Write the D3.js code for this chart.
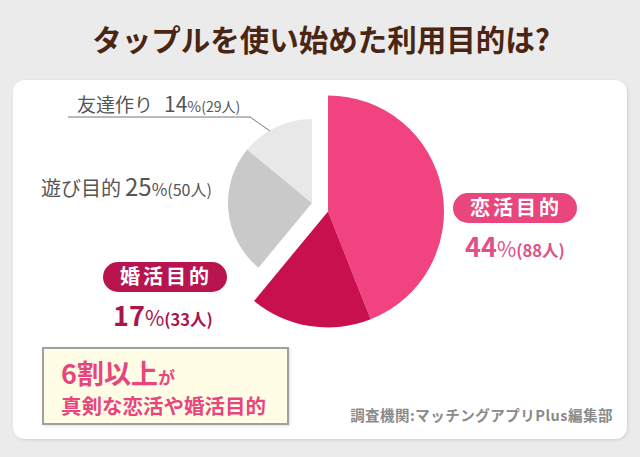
<!DOCTYPE html>
<html>
<head>
<meta charset="utf-8">
<script src="https://cdn.jsdelivr.net/npm/d3@7"></script>
<style>
  html, body { margin: 0; padding: 0; background: #ebebeb; }
  svg { display: block; font-family: "Noto Sans CJK JP", "Noto Sans", sans-serif; }
</style>
</head>
<body>
<svg id="chart" width="640" height="457"></svg>
<script>
// ---- data ----
const categories = ["恋活目的", "婚活目的", "遊び目的", "友達作り"];
const percents = [44, 17, 25, 14];
const counts = [88, 33, 50, 29];
const sliceColors = ["#f0437f", "#c8104f", "#c9c9c9", "#e8e8e8"];
const title = "タップルを使い始めた利用目的は?";
const sourceText = "調査機関:マッチングアプリPlus編集部";
const calloutLine1 = "6割以上";
const calloutLine1b = "が";
const calloutLine2 = "真剣な恋活や婚活目的";

const svg = d3.select("#chart");
const W = 640, H = 457;

// shadow filter
const defs = svg.append("defs");
const f = defs.append("filter").attr("id", "sh").attr("x", "-5%").attr("y", "-5%").attr("width", "110%").attr("height", "115%");
f.append("feDropShadow").attr("dx", 1).attr("dy", 1).attr("stdDeviation", 1.5).attr("flood-color", "#000").attr("flood-opacity", 0.12);

svg.append("rect").attr("width", W).attr("height", H).attr("fill", "#ebebeb");

// title
svg.append("text")
  .attr("x", 321).attr("y", 51)
  .attr("text-anchor", "middle")
  .attr("font-size", 29.5).attr("font-weight", 700)
  .attr("fill", "#4a2512")
  .text(title);

// card
svg.append("rect")
  .attr("x", 13).attr("y", 80).attr("width", 614).attr("height", 359)
  .attr("rx", 12).attr("fill", "#ffffff").attr("filter", "url(#sh)");

// pie
const pie = d3.pie().sort(null).value(d => d);
const arcs = pie(percents);
const bigArc = d3.arc().innerRadius(0).outerRadius(116);
const smallArc = d3.arc().innerRadius(0).outerRadius(84);

const gBig = svg.append("g").attr("transform", "translate(328,211.5)");
const gSmall = svg.append("g").attr("transform", "translate(312,203)");

arcs.forEach((a, i) => {
  const g = i < 2 ? gBig : gSmall;
  const arc = i < 2 ? bigArc : smallArc;
  g.append("path").attr("d", arc(a)).attr("fill", sliceColors[i]);
});

// leader line for 友達作り
svg.append("path")
  .attr("d", d3.line()([[68, 117], [250, 117], [270, 131]]))
  .attr("fill", "none").attr("stroke", "#777").attr("stroke-width", 1);

function grayLabel(x, y, i, sizes) {
  const t = svg.append("text").attr("x", x).attr("y", y).attr("fill", "#555");
  t.append("tspan").attr("font-size", sizes[0]).text(categories[i]);
  t.append("tspan").attr("font-size", sizes[1]).attr("dx", sizes[4]).text(percents[i]);
  t.append("tspan").attr("font-size", sizes[2]).text("%");
  t.append("tspan").attr("font-size", sizes[3]).text("(" + counts[i] + "人)");
}
grayLabel(77, 112, 3, [19, 21, 15, 14, 11]);
grayLabel(41, 196, 2, [20, 24, 17, 16, 4]);

function pill(x, y, i, fill) {
  svg.append("rect").attr("x", x).attr("y", y).attr("width", 124).attr("height", 30)
    .attr("rx", 15).attr("fill", fill);
  svg.append("text").attr("x", x + 63).attr("y", y + 22)
    .attr("text-anchor", "middle").attr("font-size", 20).attr("font-weight", 700)
    .attr("letter-spacing", 3).attr("fill", "#fff").text(categories[i]);
}
function bigValue(x, y, i, fill) {
  const t = svg.append("text").attr("x", x).attr("y", y).attr("fill", fill).attr("font-weight", 700);
  t.append("tspan").attr("font-size", 27).text(percents[i]);
  t.append("tspan").attr("font-size", 21).attr("font-weight", 400).text("%");
  t.append("tspan").attr("font-size", 16.5).text("(" + counts[i] + "人)");
}
pill(453, 193, 0, "#e8467c");
bigValue(465, 257, 0, "#e2508a");
pill(103, 262, 1, "#b8154f");
bigValue(113, 326, 1, "#a8164c");

// callout box
svg.append("rect").attr("x", 43).attr("y", 348).attr("width", 245).attr("height", 76)
  .attr("fill", "#fffde6").attr("stroke", "#a0a0a0").attr("stroke-width", 2)
  .attr("filter", "url(#sh)");
const c1 = svg.append("text").attr("x", 61).attr("y", 384).attr("fill", "#e8457f").attr("font-weight", 700);
c1.append("tspan").attr("font-size", 27).text(calloutLine1);
c1.append("tspan").attr("font-size", 17).text(calloutLine1b);
svg.append("text").attr("x", 61).attr("y", 414).attr("fill", "#e8457f").attr("font-weight", 700)
  .attr("font-size", 20.5).text(calloutLine2);

// source
svg.append("text").attr("x", 613).attr("y", 421).attr("text-anchor", "end")
  .attr("font-size", 14.5).attr("font-weight", 700).attr("letter-spacing", 0.5)
  .attr("fill", "#8a8a8a").text(sourceText);
</script>
</body>
</html>
